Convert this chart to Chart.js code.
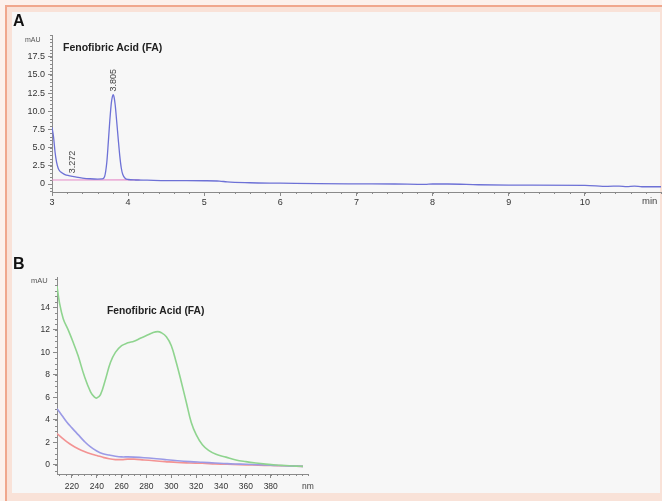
<!DOCTYPE html>
<html>
<head>
<meta charset="utf-8">
<script src="https://cdn.jsdelivr.net/npm/chart.js@4.4.0/dist/chart.umd.min.js"></script>
<style>
  body { margin: 0; width: 662px; height: 501px; overflow: hidden; background: #fcf1ec; font-family: "Liberation Sans", Arial, sans-serif; }
  #frame { position: absolute; left: 5px; top: 5px; width: 655px; height: 494px; border-top: 2px solid #f0a78d; border-left: 2px solid #f0a78d; background: #f9e2d8; }
  #panel { position: absolute; left: 12px; top: 12px; width: 648px; height: 481px; background: #f7f7f7; }
  canvas { position: absolute; }
  .txt { position: absolute; line-height: 1; white-space: nowrap; color: #222; }
</style>
</head>
<body>
<div id="frame"></div>
<div id="panel"></div>
<canvas id="chartA" width="662" height="215" style="left:0;top:0"></canvas>
<canvas id="chartB" width="330" height="245" style="left:0;top:250px"></canvas>

<div class="txt" style="left:13px;top:13px;font-size:16px;font-weight:bold;color:#111">A</div>
<div class="txt" style="left:63px;top:41.5px;font-size:10.5px;font-weight:bold">Fenofibric Acid (FA)</div>
<div class="txt" style="left:25px;top:36px;font-size:7px;color:#555">mAU</div>
<div class="txt" style="left:642px;top:196px;font-size:9.5px;color:#444">min</div>

<div class="txt" style="left:13px;top:256px;font-size:16px;font-weight:bold;color:#111">B</div>
<div class="txt" style="left:107px;top:305.5px;font-size:10.3px;font-weight:bold">Fenofibric Acid (FA)</div>
<div class="txt" style="left:31px;top:277px;font-size:7.5px;color:#555">mAU</div>
<div class="txt" style="left:302px;top:482px;font-size:8.5px;color:#444">nm</div>

<script>
// ---- A: chromatogram ----
const timeA = [3.00, 3.02, 3.04, 3.06, 3.08, 3.10, 3.13, 3.17, 3.22, 3.27, 3.32, 3.40, 3.50, 3.60, 3.66,
  3.69, 3.72, 3.74, 3.76, 3.78, 3.795, 3.805, 3.815, 3.83, 3.85, 3.87, 3.89, 3.91, 3.93, 3.96, 4.00,
  4.10, 4.25, 4.50, 5.00, 5.20, 5.30, 5.60, 6.00, 6.50, 7.00, 7.50, 7.90, 8.00, 8.20, 8.60, 9.00,
  10.00, 10.30, 10.45, 10.55, 10.65, 10.75, 11.00];
const signalA = [7.8, 6.5, 4.4, 3.0, 2.2, 1.8, 1.55, 1.3, 1.15, 1.05, 0.95, 0.82, 0.72, 0.68, 0.7,
  1.0, 3.0, 5.8, 8.8, 11.2, 12.1, 12.3, 12.0, 10.9, 8.6, 6.2, 3.9, 2.2, 1.3, 0.8, 0.62,
  0.55, 0.52, 0.47, 0.45, 0.41, 0.28, 0.17, 0.12, 0.05, 0.02, 0.0, -0.05, 0.0, 0.0, -0.1, -0.15,
  -0.18, -0.32, -0.28, -0.35, -0.3, -0.38, -0.38];
const baseTimeA = [3.00, 4.15];
const baseSignalA = [0.55, 0.58];
const peakTimes = [3.272, 3.805];
const peakHeights = [1.05, 12.3];
const peakLabels = ['3.272', '3.805'];
const xTicksA = [3, 4, 5, 6, 7, 8, 9, 10];
const yTicksA = [0, 2.5, 5, 7.5, 10, 12.5, 15, 17.5];
const yLabelsA = ['0', '2.5', '5.0', '7.5', '10.0', '12.5', '15.0', '17.5'];

// ---- B: UV spectra ----
const nmGreen = [208, 210, 213, 217, 221, 225, 230, 235, 238, 240, 243, 247, 251, 255, 260, 265, 270,
  275, 280, 285, 289, 292, 296, 300, 304, 308, 312, 316, 320, 325, 330, 336, 344, 352, 360, 368,
  376, 384, 392, 400, 406];
const absGreen = [15.9, 14.4, 13.0, 12.0, 10.9, 9.7, 7.9, 6.5, 6.05, 5.95, 6.25, 7.6, 9.1, 10.0, 10.6,
  10.85, 11.0, 11.25, 11.5, 11.75, 11.85, 11.75, 11.4, 10.6, 9.1, 7.4, 5.6, 3.8, 2.7, 1.8, 1.3,
  0.95, 0.7, 0.45, 0.3, 0.18, 0.08, 0.0, -0.05, -0.1, -0.12];
const nmBlue = [208, 212, 216, 220, 225, 230, 235, 240, 245, 250, 255, 260, 265, 270, 278, 286, 295,
  305, 315, 325, 335, 345, 355, 365, 375, 385, 395, 406];
const absBlue = [5.0, 4.4, 3.8, 3.3, 2.7, 2.1, 1.6, 1.25, 1.0, 0.88, 0.78, 0.72, 0.72, 0.7, 0.65,
  0.58, 0.48, 0.38, 0.3, 0.24, 0.18, 0.12, 0.08, 0.04, 0.0, -0.05, -0.08, -0.12];
const nmRed = [208, 212, 216, 220, 225, 230, 235, 240, 245, 250, 255, 260, 265, 270, 278, 286, 295,
  305, 315, 325, 335, 345, 355, 365, 375, 385, 395, 406];
const absRed = [2.8, 2.4, 2.05, 1.75, 1.45, 1.2, 1.0, 0.85, 0.68, 0.55, 0.48, 0.48, 0.52, 0.52, 0.45,
  0.38, 0.3, 0.22, 0.18, 0.15, 0.1, 0.06, 0.03, 0.0, -0.03, -0.06, -0.08, -0.12];
const xTicksB = [220, 240, 260, 280, 300, 320, 340, 360, 380];
const yTicksB = [0, 2, 4, 6, 8, 10, 12, 14];

const axisColor = '#8a8a8a';

function steps(from, to, step) {
  const out = [];
  for (let v = from; v <= to + 1e-9; v += step) out.push(+v.toFixed(3));
  return out;
}

function pts(xs, ys) {
  return xs.map((x, i) => ({ x: x, y: ys[i] }));
}

// short ticks between the labelled ones
const minorTicks = {
  id: 'minorTicks',
  afterDraw(chart, args, opts) {
    const ctx = chart.ctx;
    const xs = chart.scales.x, ys = chart.scales.y;
    ctx.save();
    ctx.strokeStyle = axisColor;
    ctx.lineWidth = 1;
    ctx.beginPath();
    opts.x.forEach(v => {
      const px = Math.round(xs.getPixelForValue(v)) + 0.5;
      ctx.moveTo(px, xs.top);
      ctx.lineTo(px, xs.top + 2);
    });
    opts.y.forEach(v => {
      const py = Math.round(ys.getPixelForValue(v)) + 0.5;
      ctx.moveTo(ys.right, py);
      ctx.lineTo(ys.right - 2, py);
    });
    ctx.stroke();
    ctx.restore();
  }
};

// retention time written above each peak
const peakText = {
  id: 'peakText',
  afterDatasetsDraw(chart) {
    if (chart.canvas.id !== 'chartA') return;
    const ctx = chart.ctx;
    ctx.save();
    ctx.font = '9px "Liberation Sans", Arial, sans-serif';
    ctx.fillStyle = '#444';
    ctx.textAlign = 'left';
    ctx.textBaseline = 'middle';
    peakTimes.forEach((t, i) => {
      const px = chart.scales.x.getPixelForValue(t);
      const py = chart.scales.y.getPixelForValue(peakHeights[i]) - 3;
      ctx.save();
      ctx.translate(px, py);
      ctx.rotate(-Math.PI / 2);
      ctx.fillText(peakLabels[i], 0, 0);
      ctx.restore();
    });
    ctx.restore();
  }
};

function axis(min, max, ticks, labels, fontSize, pad, fixed, isX) {
  return {
    type: 'linear',
    min: min,
    max: max,
    grid: { drawOnChartArea: false, drawTicks: true, tickLength: 4, color: axisColor },
    border: { display: true, color: axisColor, width: 1 },
    ticks: {
      autoSkip: false,
      maxRotation: 0,
      padding: pad,
      color: '#333',
      font: { family: '"Liberation Sans", Arial, sans-serif', size: fontSize },
      callback: (v, i) => labels ? labels[i] : String(v)
    },
    afterBuildTicks: s => { s.ticks = ticks.map(v => ({ value: v })); },
    afterFit: s => { if (isX) s.height = fixed; else s.width = fixed; }
  };
}

const common = {
  responsive: false,
  animation: false,
  plugins: { legend: { display: false }, tooltip: { enabled: false } },
  elements: { point: { radius: 0 } }
};

new Chart(document.getElementById('chartA'), {
  type: 'line',
  data: {
    datasets: [
      { data: pts(timeA, signalA), borderColor: '#6d71d6', borderWidth: 1.3, fill: false, cubicInterpolationMode: 'monotone' },
      { data: pts(baseTimeA, baseSignalA), borderColor: '#e68fca', borderWidth: 1.2, fill: false }
    ]
  },
  options: Object.assign({}, common, {
    layout: { padding: { left: 12, top: 35, right: 1, bottom: 0 } },
    scales: {
      x: axis(3, 11, xTicksA, null, 9, 1, 23, true),
      y: axis(-1.1, 20.5, yTicksA, yLabelsA, 9, 3, 40, false)
    },
    plugins: Object.assign({}, common.plugins, {
      minorTicks: { x: steps(3, 11, 0.2), y: steps(-1, 20.5, 0.5) }
    })
  }),
  plugins: [minorTicks, peakText]
});

new Chart(document.getElementById('chartB'), {
  type: 'line',
  data: {
    datasets: [
      { data: pts(nmGreen, absGreen), borderColor: '#8fd48f', borderWidth: 1.6, fill: false, tension: 0.4 },
      { data: pts(nmBlue, absBlue), borderColor: '#9b9ae6', borderWidth: 1.6, fill: false, tension: 0.4 },
      { data: pts(nmRed, absRed), borderColor: '#f39393', borderWidth: 1.6, fill: false, tension: 0.4 }
    ]
  },
  options: Object.assign({}, common, {
    layout: { padding: { left: 12, top: 27, right: 22, bottom: 0 } },
    scales: {
      x: axis(208, 410, xTicksB, null, 8.5, 4, 21, true),
      y: axis(-0.8, 16.7, yTicksB, null, 8.5, 3, 45, false)
    },
    plugins: Object.assign({}, common.plugins, {
      minorTicks: { x: steps(210, 410, 5), y: steps(-0.5, 16.5, 0.5) }
    })
  }),
  plugins: [minorTicks]
});
</script>
</body>
</html>
